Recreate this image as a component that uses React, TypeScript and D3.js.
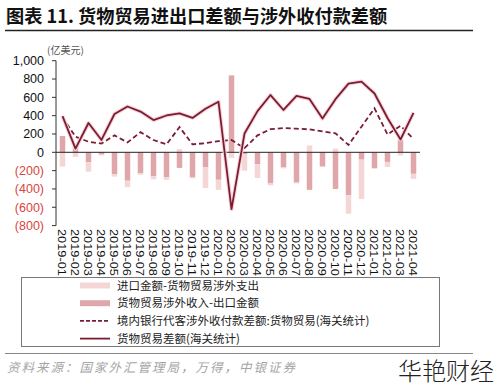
import * as d3 from "d3";

const months = [
  "2019-01", "2019-02", "2019-03", "2019-04", "2019-05", "2019-06", "2019-07",
  "2019-08", "2019-09", "2019-10", "2019-11", "2019-12", "2020-01", "2020-02",
  "2020-03", "2020-04", "2020-05", "2020-06", "2020-07", "2020-08", "2020-09",
  "2020-10", "2020-11", "2020-12", "2021-01", "2021-02", "2021-03", "2021-04",
];

// 货物贸易涉外收入-出口金额
const receiptsMinusExports = [
  178, 60, -109, -25, -240, -310, -230, -260, -270, -170, -270, -160, -300, 840,
  -20, -130, -340, -165, -330, -410, -155, -400, -470, -80, -175, -105, 135, -235,
];
// 进口金额-货物贸易涉外支出
const importsMinusPayments = [
  -156, -50, -102, -10, -25, -70, -15, -35, -30, 35, -15, -230, -110, -60,
  -180, -150, -20, -10, -10, 75, 0, 40, -200, -430, 0, -55, -35, -55,
];
// 境内银行代客涉外收付款差额:货物贸易(海关统计)
const bankBalance = [
  385, 170, 116, 95, 185, 108, 220, 134, 87, 275, 87, 100, 122, 134, 45, 185,
  252, 265, 258, 250, 228, 208, 80, 280, 480, 195, 290, 145,
];
// 货物贸易差额(海关统计)
const tradeBalance = [
  395, 40, 320, 135, 418, 500, 445, 352, 402, 425, 375, 475, 552, -620, 205,
  450, 625, 462, 615, 582, 368, 580, 750, 772, 642, 375, 140, 430,
];

const yTicks = [1000, 800, 600, 400, 200, 0, -200, -400, -600, -800];

const LIGHT = "#f5d6d6";
const MEDIUM = "#dfa7a9";
const DARK = "#7a1d34";

const W = 500;
const H = 386;
const plot = { left: 56, right: 420, top: 60.7, bottom: 225.6 };

export default function App() {
  const x = d3
    .scaleBand<string>()
    .domain(months)
    .range([plot.left, plot.right]);
  const y = d3.scaleLinear().domain([-800, 1000]).range([plot.bottom, plot.top]);
  const cx = (i: number) => (x(months[i]) ?? 0) + x.bandwidth() / 2;

  const table = months.map((m, i) => ({
    month: m,
    rx: receiptsMinusExports[i],
    ip: importsMinusPayments[i],
  }));
  const stacked = d3
    .stack<{ month: string; rx: number; ip: number }>()
    .keys(["rx", "ip"])
    .offset(d3.stackOffsetDiverging)(table);

  const barW = 5.5;
  const fmt = d3.format(",");
  const tickText = (v: number) => (v < 0 ? `(${fmt(-v)})` : fmt(v));

  const line = d3
    .line<number>()
    .x((_, i) => cx(i))
    .y((d) => y(d));

  const legendRows = [
    { label: "进口金额-货物贸易涉外支出", kind: "rect", color: LIGHT },
    { label: "货物贸易涉外收入-出口金额", kind: "rect", color: MEDIUM },
    { label: "境内银行代客涉外收付款差额:货物贸易(海关统计)", kind: "dash", color: DARK },
    { label: "货物贸易差额(海关统计)", kind: "line", color: DARK },
  ];

  const cjk = "'Noto Sans CJK SC', 'Noto Sans', sans-serif";
  const num = "'Liberation Sans Narrow', 'Liberation Sans', Arial, sans-serif";

  return (
    <div style={{ position: "absolute", left: 0, top: 0 }}>
      <svg width={W} height={H} style={{ display: "block", background: "#fff" }}>
        <text x={6} y={23} fontFamily={cjk} fontWeight={700} fontSize={18.2} fill="#111">
          图表 11. 货物贸易进出口差额与涉外收付款差额
        </text>
        <line x1={5} x2={473} y1={30.5} y2={30.5} stroke="#222" strokeWidth={1.6} />

        <text x={47} y={54} fontFamily={cjk} fontSize={10} fill="#555">
          (亿美元)
        </text>

        {/* bars */}
        {stacked.map((s) => (
          <g key={s.key} fill={s.key === "rx" ? MEDIUM : LIGHT}>
            {s.map((d, i) => (
              <rect
                key={i}
                x={cx(i) - barW / 2}
                width={barW}
                y={y(Math.max(d[0], d[1]))}
                height={Math.abs(y(d[0]) - y(d[1]))}
              />
            ))}
          </g>
        ))}

        {/* y axis */}
        <line x1={plot.left} x2={plot.left} y1={plot.top} y2={plot.bottom} stroke="#333" strokeWidth={1} />
        {yTicks.map((t) => (
          <g key={t}>
            <line x1={plot.left - 4} x2={plot.left} y1={y(t)} y2={y(t)} stroke="#333" />
            <text
              x={plot.left - 12}
              y={y(t)}
              dy="0.35em"
              textAnchor="end"
              fontFamily={num}
              fontSize={12.5}
              fill={t < 0 ? "#d9453d" : "#111"}
            >
              {tickText(t)}
            </text>
          </g>
        ))}
        <line x1={plot.left} x2={plot.right} y1={y(0)} y2={y(0)} stroke="#222" strokeWidth={1} />

        {/* lines */}
        <path d={line(bankBalance) ?? ""} fill="none" stroke={DARK} strokeWidth={1.8} strokeDasharray="5,3" />
        <path d={line(tradeBalance) ?? ""} fill="none" stroke="#f8d3d8" strokeWidth={4} strokeLinejoin="round" />
        <path d={line(tradeBalance) ?? ""} fill="none" stroke={DARK} strokeWidth={1.8} strokeLinejoin="round" />

        {/* x labels */}
        {months.map((m, i) => (
          <text
            key={m}
            transform={`translate(${cx(i) - 1},229) rotate(90)`}
            dominantBaseline="central"
            fontFamily={num}
            fontSize={11}
            textLength={47}
            lengthAdjust="spacingAndGlyphs"
            fill="#111"
          >
            {m}
          </text>
        ))}

        {/* legend */}
        <rect x={21.5} y={277.5} width={418} height={69} fill="#fff" stroke="#777" strokeWidth={1} />
        {legendRows.map((r, i) => {
          const ly = 285.5 + i * 17.7;
          return (
            <g key={r.label}>
              {r.kind === "rect" ? (
                <rect x={80} y={ly - 3} width={30} height={6} fill={r.color} />
              ) : (
                <line
                  x1={80}
                  x2={110}
                  y1={ly}
                  y2={ly}
                  stroke={r.color}
                  strokeWidth={1.8}
                  strokeDasharray={r.kind === "dash" ? "4,2" : undefined}
                />
              )}
              <text x={117} y={ly} dy="0.36em" fontFamily={cjk} fontSize={11.5} fill="#222">
                {r.label}
              </text>
            </g>
          );
        })}

        <line x1={5} x2={473} y1={353.5} y2={353.5} stroke="#888" strokeWidth={1} />
        <text
          x={7}
          y={372}
          fontFamily={cjk}
          fontSize={12.5}
          fontStyle="italic"
          letterSpacing={2}
          fill="#a5a5a5"
        >
          资料来源：国家外汇管理局，万得，中银证券
        </text>
        <text x={398} y={380} fontFamily={cjk} fontWeight={300} fontSize={24} fill="#222">
          华艳财经
        </text>
      </svg>
    </div>
  );
}
